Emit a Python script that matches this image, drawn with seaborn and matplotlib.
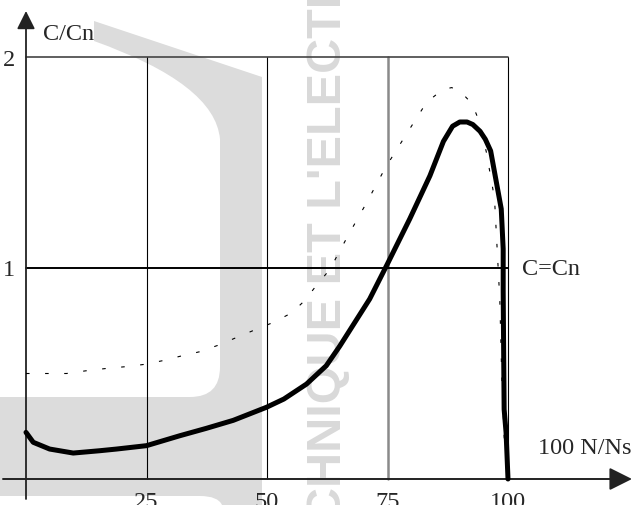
import matplotlib
matplotlib.use("Agg")
import matplotlib.pyplot as plt
import matplotlib.transforms as mtransforms
from matplotlib.path import Path
from matplotlib.patches import PathPatch
import pandas as pd
import seaborn as sns

# Torque / speed characteristic: C/Cn against 100 N/Ns
speed_main = [0, 1.5, 4.9, 9.8, 15.3, 18.8, 25.0, 31.9, 37.4, 43.0, 49.9, 53.5,
              58.2, 62.3, 65.1, 71.3, 75.0, 79.6, 83.8, 86.6, 88.5, 90.0, 91.5,
              92.7, 94.2, 95.3, 96.4, 97.6, 98.6, 99.0, 99.0, 99.1, 99.2, 99.6, 100.0]
torque_main = [0.221, 0.174, 0.142, 0.123, 0.134, 0.142, 0.158, 0.205, 0.24, 0.278,
               0.34, 0.379, 0.45, 0.537, 0.63, 0.853, 1.02, 1.232, 1.437, 1.600,
               1.672, 1.692, 1.692, 1.680, 1.648, 1.610, 1.555, 1.405, 1.28, 1.09,
               0.89, 0.60, 0.33, 0.22, 0.0]

speed_dotted = [0, 8.4, 12.5, 16.7, 20.5, 24.5, 28.4, 32.2, 36.0, 40.0, 43.3, 47.4,
                51.3, 55.1, 57.8, 60.2, 63.0, 66.8, 70.7, 74.6, 78.8, 83.1, 86.4,
                88.3, 90.0, 92.6, 94.1, 95.5, 97.2, 98.3, 98.7, 99.2, 100.0]
torque_dotted = [0.50, 0.50, 0.513, 0.524, 0.532, 0.543, 0.561, 0.583, 0.603, 0.635,
                 0.667, 0.706, 0.742, 0.787, 0.845, 0.916, 0.992, 1.153, 1.311,
                 1.477, 1.630, 1.785, 1.845, 1.855, 1.840, 1.777, 1.69, 1.55, 1.33,
                 0.85, 0.49, 0.2, 0.0]

grid_x = [25, 50, 75]
tick_values = [25, 50, 75, 100]
tick_labels = ["25", "50", "75", "100"]
y_values = [1, 2]
y_labels = ["1", "2"]

W, H = 636, 506
sns.set_style("white")
plt.rcParams["font.family"] = ["Liberation Serif", "DejaVu Serif"]

fig = plt.figure(figsize=(W / 100, H / 100), dpi=100)
ax = fig.add_axes([0, 0, 1, 1])

# data <-> pixel scale of the drawing
X0, SX = 26.0, 4.82
Y0, SY = 480.0, 211.0
ax.set_xlim(-X0 / SX, (W - X0) / SX)
ax.set_ylim(-(H - Y0) / SY, Y0 / SY)
ax.axis("off")


def to_data(px, py):
    return ((px - X0) / SX, (Y0 - py) / SY)


# pixel transform (origin top-left) for the background print
pix = mtransforms.Affine2D().scale(1 / W, -1 / H).translate(0, 1) + fig.transFigure

verts = [(94, 22), (262, 78), (262, 506), (222, 506), (218, 497), (200, 497),
         (0, 497), (0, 398), (190, 398), (220, 398), (220, 368), (220, 140),
         (215, 85), (94, 42), (94, 22)]
codes = [Path.MOVETO, Path.LINETO, Path.LINETO, Path.LINETO, Path.CURVE3, Path.CURVE3,
         Path.LINETO, Path.LINETO, Path.LINETO, Path.CURVE3, Path.CURVE3, Path.LINETO,
         Path.CURVE3, Path.CURVE3, Path.CLOSEPOLY]
ax.add_patch(PathPatch(Path(verts, codes), facecolor="#dcdcdc", edgecolor="none",
                       transform=pix, zorder=0))
ax.text(329, 522, "CHNIQUE ET L'ELECTR", transform=pix, rotation=90,
        ha="center", va="bottom", fontsize=35, fontweight="bold",
        family=["Liberation Sans", "DejaVu Sans"], color="#d9d9d9", zorder=0)

# frame and reference lines
for gx in grid_x:
    col, lw = ("#8a8a8a", 1.8) if gx == 75 else ("black", 0.8)
    ax.plot([gx, gx], [0, 2], color=col, lw=lw, zorder=1)
ax.plot([100, 100], [0, 2], color="black", lw=0.8, zorder=1)
ax.plot([0, 100], [2, 2], color="#444444", lw=1.2, zorder=1)
ax.plot([0, 100], [1, 1], color="black", lw=1.4, zorder=1)

# axes with arrows
ax.annotate("", xy=to_data(632, 480), xytext=to_data(3, 480),
            arrowprops=dict(arrowstyle="-|>,head_length=1.4,head_width=0.7",
                            color="#222222", lw=1.4, shrinkA=0, shrinkB=0), zorder=1)
ax.annotate("", xy=to_data(26, 12), xytext=to_data(26, 500),
            arrowprops=dict(arrowstyle="-|>,head_length=1.1,head_width=0.55",
                            color="#222222", lw=1.3, shrinkA=0, shrinkB=0), zorder=1)

# curves
main_df = pd.DataFrame({"speed": speed_main, "torque": torque_main})
dot_df = pd.DataFrame({"speed": speed_dotted, "torque": torque_dotted})
sns.lineplot(data=dot_df, x="speed", y="torque", sort=False, estimator=None,
             color="black", lw=0.8, linestyle=(0, (3.2, 14)), ax=ax, zorder=2)
sns.lineplot(data=main_df, x="speed", y="torque", sort=False, estimator=None,
             color="black", lw=3.6, solid_capstyle="round", solid_joinstyle="round",
             ax=ax, zorder=3)
ax.set_xlim(-X0 / SX, (W - X0) / SX)
ax.set_ylim(-(H - Y0) / SY, Y0 / SY)
ax.axis("off")

# labels
fs = 17.5
for v, lab in zip(tick_values, tick_labels):
    ax.text(v, to_data(0, 508)[1], lab, ha="center", va="baseline", fontsize=fs)
for v, lab in zip(y_values, y_labels):
    ax.text(to_data(9, 0)[0], v - 7.5 / SY, lab, ha="center", va="baseline", fontsize=fs)
ax.text(*to_data(43, 40), "C/Cn", ha="left", va="baseline", fontsize=fs)
ax.text(*to_data(522, 275), "C=Cn", ha="left", va="baseline", fontsize=fs)
ax.text(*to_data(538, 454), "100 N/Ns", ha="left", va="baseline", fontsize=fs)

fig.savefig("out.png", dpi=100)
